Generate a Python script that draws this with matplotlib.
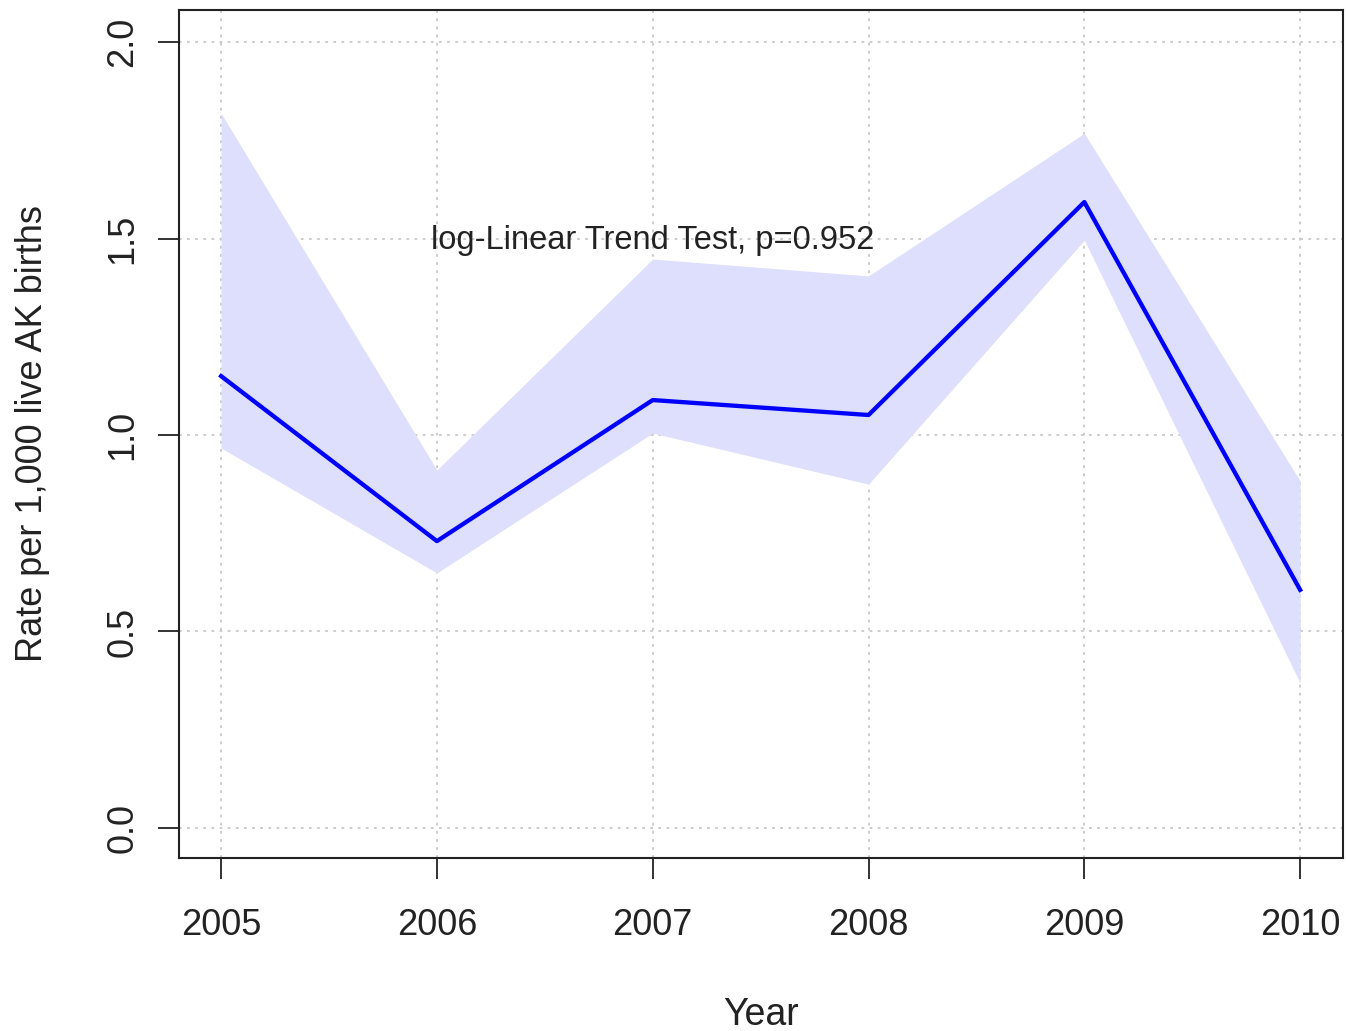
import matplotlib
matplotlib.use("Agg")
import matplotlib.pyplot as plt

# data
years = [2005, 2006, 2007, 2008, 2009, 2010]
rate = [1.150, 0.730, 1.089, 1.051, 1.593, 0.606]
upper = [1.819, 0.911, 1.448, 1.405, 1.768, 0.883]
lower = [0.967, 0.649, 1.005, 0.875, 1.496, 0.369]
yticks = [0.0, 0.5, 1.0, 1.5, 2.0]

plt.rcParams['font.family'] = ['Liberation Sans', 'DejaVu Sans']

fig = plt.figure(figsize=(13.46, 10.31), dpi=100)
ax = fig.add_axes([0.133, 0.168, 0.865, 0.822])

ax.fill_between(years, lower, upper, color='#dedefd', linewidth=0, zorder=1)
ax.plot(years, rate, color='#0000ff', linewidth=3.1, zorder=3)

ax.set_xlim(2004.805, 2010.2)
ax.set_ylim(-0.076, 2.081)
ax.set_xticks(years)
ax.set_yticks(yticks)
ax.set_yticklabels(['%.1f' % v for v in yticks], rotation=90, va='center')

ax.grid(True, color='#c8c8c8', linestyle=(0, (1.5, 3)), linewidth=1.3, zorder=0)
ax.set_axisbelow(True)

ax.tick_params(axis='both', direction='out', length=15, width=1.3, labelsize=26,
               color='#222222', labelcolor='#222222')
ax.tick_params(axis='x', pad=21)
ax.tick_params(axis='y', pad=13)
for s in ax.spines.values():
    s.set_linewidth(1.5)
    s.set_color('#222222')

ax.text(2007.0, 1.495, 'log-Linear Trend Test, p=0.952', ha='center', va='center',
        fontsize=23.5, color='#222222')

ax.set_xlabel('Year', fontsize=27, color='#222222', labelpad=39)
ax.set_ylabel('Rate per 1,000 live AK births', fontsize=26, color='#222222', labelpad=40)

fig.savefig('out.png', dpi=100)
